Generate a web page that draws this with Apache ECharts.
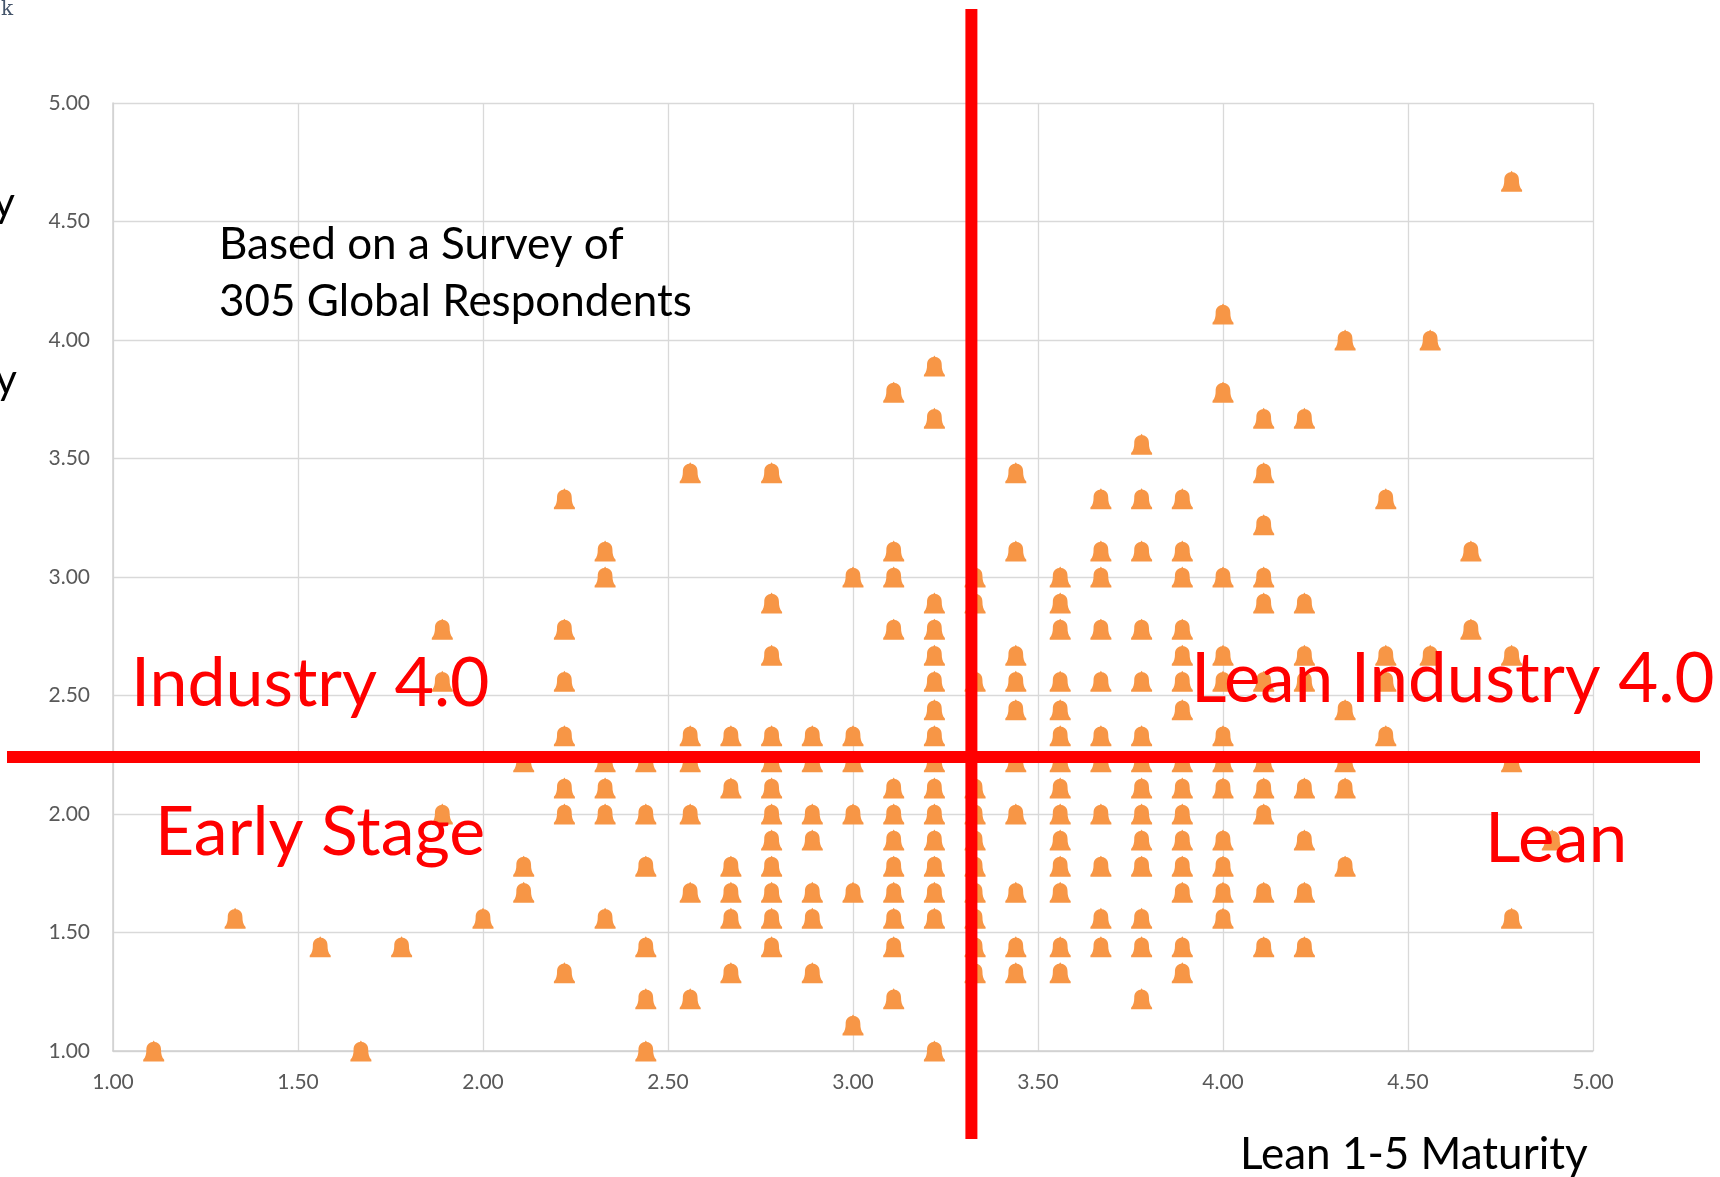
<!DOCTYPE html>
<html>
<head>
<meta charset="utf-8">
<script src="https://cdn.jsdelivr.net/npm/echarts@6/dist/echarts.min.js"></script>
<style>
html,body{margin:0;padding:0;background:#fff;}
#chart{width:1720px;height:1177px;}
</style>
</head>
<body>
<div id="chart"></div>
<script>
// Lean maturity (x) columns and the Industry 4.0 maturity (y) values seen in each column
const leanColumns = [1.11, 1.33, 1.56, 1.67, 1.78, 1.89, 2.00, 2.11, 2.22, 2.33, 2.44, 2.56, 2.67, 2.78, 2.89, 3.00, 3.11, 3.22, 3.33, 3.44, 3.56, 3.67, 3.78, 3.89, 4.00, 4.11, 4.22, 4.33, 4.44, 4.56, 4.67, 4.78, 4.89];
const industryByColumn = [
  [1.00],
  [1.56],
  [1.44],
  [1.00],
  [1.44],
  [2.78, 2.56, 2.00],
  [1.56],
  [2.22, 1.78, 1.67],
  [3.33, 2.78, 2.56, 2.33, 2.11, 2.00, 1.33],
  [3.11, 3.00, 2.22, 2.11, 2.00, 1.56],
  [2.22, 2.00, 1.78, 1.44, 1.22, 1.00],
  [3.44, 2.33, 2.22, 2.00, 1.67, 1.22],
  [2.33, 2.11, 1.78, 1.67, 1.56, 1.33],
  [3.44, 2.89, 2.67, 2.33, 2.22, 2.11, 2.00, 1.89, 1.78, 1.67, 1.56, 1.44],
  [2.33, 2.22, 2.00, 1.89, 1.67, 1.56, 1.33],
  [3.00, 2.33, 2.22, 2.00, 1.67, 1.11],
  [3.78, 3.11, 3.00, 2.78, 2.11, 2.00, 1.89, 1.78, 1.67, 1.56, 1.44, 1.22],
  [3.89, 3.67, 2.89, 2.78, 2.67, 2.56, 2.44, 2.33, 2.22, 2.11, 2.00, 1.89, 1.78, 1.67, 1.56, 1.00],
  [3.00, 2.89, 2.56, 2.11, 2.00, 1.89, 1.78, 1.67, 1.56, 1.44, 1.33],
  [3.44, 3.11, 2.67, 2.56, 2.44, 2.22, 2.00, 1.67, 1.44, 1.33],
  [3.00, 2.89, 2.78, 2.56, 2.44, 2.33, 2.22, 2.11, 2.00, 1.89, 1.78, 1.67, 1.44, 1.33],
  [3.33, 3.11, 3.00, 2.78, 2.56, 2.33, 2.22, 2.00, 1.78, 1.56, 1.44],
  [3.56, 3.33, 3.11, 2.78, 2.56, 2.33, 2.22, 2.11, 2.00, 1.89, 1.78, 1.56, 1.44, 1.22],
  [3.33, 3.11, 3.00, 2.78, 2.67, 2.56, 2.44, 2.22, 2.11, 2.00, 1.89, 1.78, 1.67, 1.44, 1.33],
  [4.11, 3.78, 3.00, 2.67, 2.56, 2.33, 2.22, 2.11, 1.89, 1.78, 1.67, 1.56],
  [3.67, 3.44, 3.22, 3.00, 2.89, 2.56, 2.22, 2.11, 2.00, 1.67, 1.44],
  [3.67, 2.89, 2.67, 2.56, 2.11, 1.89, 1.67, 1.44],
  [4.00, 2.44, 2.22, 2.11, 1.78],
  [3.33, 2.67, 2.56, 2.33],
  [4.00, 2.67],
  [3.11, 2.78],
  [4.67, 2.67, 2.22, 1.56],
  [1.89]
];
const axisMin = 1, axisMax = 5, axisStep = 0.5;
const leanThreshold = 3.32;
const industryThreshold = 2.24;
const xAxisTitle = 'Lean 1-5 Maturity';
const noteLines = ['Based on a Survey of', '305 Global Respondents'];
const quadrantNames = ['Industry 4.0', 'Lean Industry 4.0', 'Early Stage', 'Lean'];

const points = [];
leanColumns.forEach((x, i) => industryByColumn[i].forEach(y => points.push([x, y])));

const bell = 'path://M10,0 L11,1.4 C15.4,2 17,5 17,9 C17,12.8 17.6,15.6 20,18.4 L20,20 L0,20 L0,18.4 C2.4,15.6 3,12.8 3,9 C3,5 4.6,2 9,1.4 Z';
const FONT = 'Lato, "Open Sans", sans-serif';

const chart = echarts.init(document.getElementById('chart'), null, {renderer: 'canvas'});
chart.setOption({
  animation: false,
  backgroundColor: '#ffffff',
  grid: {left: 113, right: 127, top: 103, bottom: 126},
  xAxis: {
    type: 'value', min: axisMin, max: axisMax, interval: axisStep,
    axisLine: {show: true, lineStyle: {color: '#d0d0d0', width: 1.5}},
    axisTick: {show: false},
    splitLine: {show: true, lineStyle: {color: '#d9d9d9', width: 1.3}},
    axisLabel: {color: '#595959', fontSize: 21, fontFamily: FONT, margin: 21,
      formatter: v => v.toFixed(2)}
  },
  yAxis: {
    type: 'value', min: axisMin, max: axisMax, interval: axisStep,
    axisLine: {show: true, lineStyle: {color: '#d0d0d0', width: 1.5}},
    axisTick: {show: false},
    splitLine: {show: true, lineStyle: {color: '#d9d9d9', width: 1.3}},
    axisLabel: {color: '#595959', fontSize: 21, fontFamily: FONT, margin: 23,
      formatter: v => v.toFixed(2)}
  },
  series: [{
    type: 'scatter',
    data: points,
    symbol: bell,
    symbolSize: [21, 21],
    clip: false,
    itemStyle: {color: '#F79646', opacity: 1},
    emphasis: {disabled: true},
    z: 2
  }]
});

const c = chart.convertToPixel({gridIndex: 0}, [leanThreshold, industryThreshold]);
const RED = '#ff0000';
function txt(text, x, y, size, color, align) {
  return {
    type: 'text', x: x, y: y, z: 100,
    style: {text: text, fill: color, font: size + 'px ' + FONT, align: align || 'left', verticalAlign: 'middle'}
  };
}
chart.setOption({
  graphic: [
    {type: 'line', z: 90, shape: {x1: c[0], y1: 9, x2: c[0], y2: 1139}, style: {stroke: RED, lineWidth: 12}},
    {type: 'line', z: 90, shape: {x1: 7, y1: c[1], x2: 1700, y2: c[1]}, style: {stroke: RED, lineWidth: 12}},
    txt(noteLines[0], 219, 245, 44, '#000000'),
    txt(noteLines[1], 219, 302, 44, '#000000'),
    txt(quadrantNames[0], 131, 684, 68, RED),
    txt(quadrantNames[1], 1191, 680, 69, RED),
    txt(quadrantNames[2], 155, 833, 68, RED),
    txt(quadrantNames[3], 1485, 840, 69, RED),
    txt(xAxisTitle, 1240, 1155, 44, '#000000'),
    txt('Industry', 15, 203, 42, '#000000', 'right'),
    txt('Maturity', 17, 380, 42, '#000000', 'right'),
    {type: 'text', x: 13, y: 10, z: 100, style: {text: 'k', fill: '#44546a', font: '20px "DejaVu Serif", serif', align: 'right', verticalAlign: 'middle'}}
  ]
});
</script>
</body>
</html>
